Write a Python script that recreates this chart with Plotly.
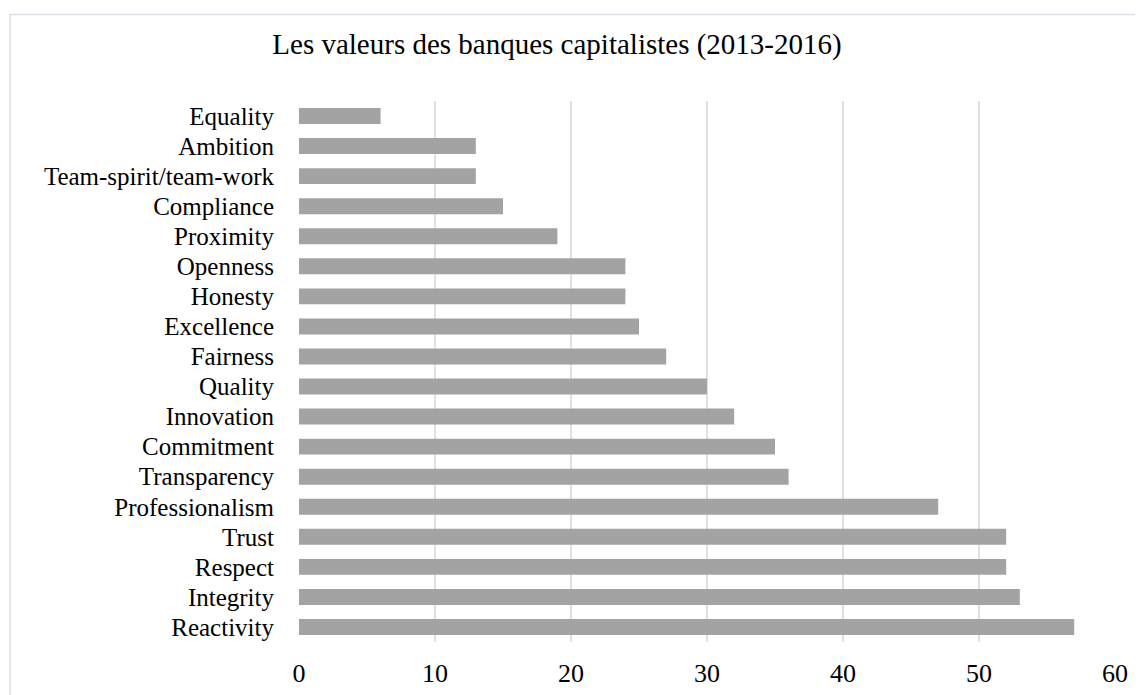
import plotly.graph_objects as go

categories = ["Reactivity", "Integrity", "Respect", "Trust", "Professionalism", "Transparency",
              "Commitment", "Innovation", "Quality", "Fairness", "Excellence", "Honesty",
              "Openness", "Proximity", "Compliance", "Team-spirit/team-work", "Ambition", "Equality"]
values = [57, 53, 52, 52, 47, 36, 35, 32, 30, 27, 25, 24, 24, 19, 15, 13, 13, 6]
x_ticks = [0, 10, 20, 30, 40, 50, 60]
title = "Les valeurs des banques capitalistes (2013-2016)"

# the page places the figure at an 8px offset; work in figure pixels
OFF = 8
W, H = 1143 - OFF, 695 - OFF
L, R, T, B = 299 - OFF, 28, 101 - OFF, 53
pw, ph = W - L - R, H - T - B

fig = go.Figure(go.Bar(
    y=categories, x=values, orientation="h",
    marker=dict(color="#a3a3a3", line=dict(width=0)),
    width=0.53,
))

def px_x(p):
    return (p - OFF - L) / pw

def px_y(p):
    return (H - B - (p - OFF)) / ph

fig.add_shape(type="rect", xref="paper", yref="paper",
              x0=px_x(10), x1=px_x(1160), y0=px_y(710), y1=px_y(14.5),
              line=dict(color="#d9dee6", width=1.5), fillcolor="rgba(0,0,0,0)", layer="below")

fig.update_layout(
    width=W, height=H,
    margin=dict(l=L, r=R, t=T, b=B, autoexpand=False),
    paper_bgcolor="white", plot_bgcolor="white",
    font=dict(family="Liberation Serif, Times New Roman, serif", color="#000000", size=26),
    title=dict(text=title, x=(557 - OFF) / W, xref="container", xanchor="center",
               y=1 - (44 - OFF) / H, yref="container", yanchor="middle",
               font=dict(size=29, family="Liberation Serif, Times New Roman, serif")),
    showlegend=False,
)
fig.update_xaxes(range=[0, 60], tickmode="array", tickvals=x_ticks, showgrid=True,
                 gridcolor="#dde1e8", gridwidth=1.5, automargin=False,
                 zeroline=False, showline=False, ticks="", ticklabelstandoff=13,
                 tickfont=dict(size=26))
fig.update_yaxes(categoryorder="array", categoryarray=categories, showgrid=False,
                 tickmode="array", tickvals=categories, ticktext=categories,
                 range=[-0.5, len(categories) - 0.5], automargin=False,
                 showline=False, ticks="", ticklabelstandoff=24, tickfont=dict(size=25))

fig.write_html("out.html")
